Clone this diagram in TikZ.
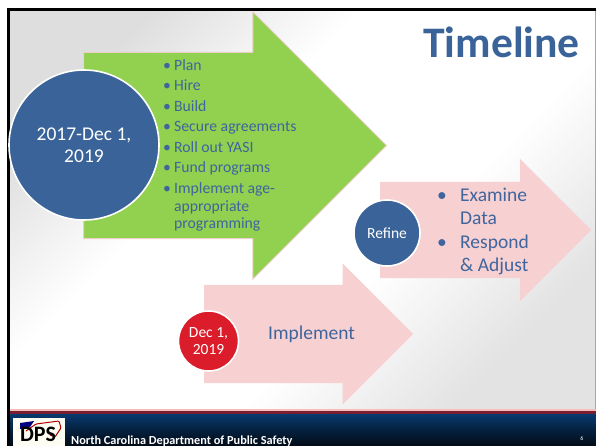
\documentclass[tikz,border=0pt]{standalone}
\usepackage{fontspec}
\setmainfont{Carlito}
\usepackage{xcolor}
\usetikzlibrary{shapes.arrows}

\definecolor{slideblue}{HTML}{3A6399}
\definecolor{listblue}{HTML}{3F659E}
\definecolor{arrowgreen}{HTML}{92D050}
\definecolor{arrowpink}{HTML}{F7D0D1}
\definecolor{edgepink}{HTML}{EBCFC8}
\definecolor{dotred}{HTML}{DB1C2A}
\definecolor{bandred}{HTML}{7A1E32}
\definecolor{footnavy}{HTML}{08396F}
\definecolor{footdark}{HTML}{020B16}

\pgfdeclareverticalshading{slidebg}{100bp}{
  color(0bp)=(black!13); color(25bp)=(black!13); color(40bp)=(white);
  color(60bp)=(white); color(75bp)=(black!11); color(100bp)=(black!11)}

\newcommand{\bitem}[2]{\makebox[#1][l]{\textbullet}\parbox[t]{130pt}{\raggedright #2}}

\begin{document}
\begin{tikzpicture}[
  x=1pt, y=-1pt,
  slidearrow/.style={single arrow, inner sep=0pt, anchor=tail},
  greenarrow/.style={slidearrow, fill=arrowgreen, draw=edgepink, line width=1pt},
  pinkarrow/.style={slidearrow, fill=arrowpink},
  datedot/.style={circle, draw=white, line width=1.6pt, inner sep=0pt, text=white, align=center},
  planitem/.style={inner sep=0pt, anchor=base west, text=listblue, font=\fontsize{15.7}{17.3}\selectfont},
  refineitem/.style={inner sep=0pt, anchor=base west, text=listblue, font=\fontsize{19.5}{23.5}\selectfont}
]
\useasboundingbox (0,0) rectangle (596,446);

% slide background
\shade[shading=slidebg, shading angle=225] (7,9) rectangle (596,409);
\fill[black] (7,8) rectangle (596,11);
\fill[black] (7,8) rectangle (10,446);
\fill[black!35] (595,11) rectangle (596,409);

% footer
\fill[edgepink!70!red!60] (10,409) rectangle (596,411);
\fill[bandred] (10,411) rectangle (596,414);
\shade[top color=footnavy, bottom color=footdark, middle color=footnavy!45!footdark] (10,414) rectangle (596,446);
\fill[black!12!yellow!5!white] (13,418) rectangle (65,446);
\draw[red!70!black, line width=1pt, rounded corners=1pt] (26,431) -- (36,424) -- (59,421) -- (61,428) -- (55,437) -- (50,435);
\fill[blue!50!black] (20,423) -- (34,421) -- (30,427) -- (20,429) -- cycle;
\node[inner sep=0pt, font=\fontsize{22}{22}\selectfont\bfseries] (logo) at (38,434.5) {DPS};
\node[inner sep=0pt, anchor=base west, text=white, font=\fontsize{12.3}{12.3}\selectfont\bfseries] (dept) at (71,444) {North Carolina Department of Public Safety};
\node[inner sep=0pt, text=white, font=\fontsize{6}{6}\selectfont] (pagenum) at (582,438) {6};

% arrows
\node[greenarrow, text height=185pt, text depth=0pt, minimum height=303pt, single arrow head extend=40.5pt] (planarrow) at (83,145.5) {};
\node[pinkarrow, text height=96pt, text depth=0pt, minimum height=211pt, single arrow head extend=23pt] (refinearrow) at (380,230) {};
\node[pinkarrow, text height=98pt, text depth=0pt, minimum height=209pt, single arrow head extend=21.5pt] (implementarrow) at (204,334) {};

% title
\node[inner sep=0pt, anchor=base east, text=slideblue, font=\fontsize{43.6}{44}\selectfont\bfseries] (title) at (580,58) {Timeline};

% lists
\node[planitem] (plan) at (163,71) {\bitem{11pt}{Plan}};
\node[planitem] (hire) at (163,91) {\bitem{11pt}{Hire}};
\node[planitem] (build) at (163,112) {\bitem{11pt}{Build}};
\node[planitem] (secure) at (163,132) {\bitem{11pt}{Secure agreements}};
\node[planitem] (rollout) at (163,153) {\bitem{11pt}{Roll out YASI}};
\node[planitem] (fund) at (163,173) {\bitem{11pt}{Fund programs}};
\node[planitem] (impl) at (163,194) {\bitem{11pt}{Implement age-\\appropriate\\programming}};
\node[refineitem] (examine) at (437,201) {\bitem{23pt}{Examine\\Data}};
\node[refineitem] (respond) at (437,248) {\bitem{23pt}{Respond\\\& Adjust}};
\node[inner sep=0pt, text=listblue, font=\fontsize{19.5}{23}\selectfont] (implementlabel) at (311.5,334) {Implement};

% date circles
\node[datedot, fill=slideblue, minimum size=150pt, font=\fontsize{19.5}{22}\selectfont] (startdot) at (84,145) {2017-Dec 1,\\2019};
\node[datedot, fill=slideblue, minimum size=66pt, font=\fontsize{15.5}{17}\selectfont] (refinedot) at (387,233) {Refine};
\node[datedot, fill=dotred, minimum size=60pt, font=\fontsize{15.5}{17}\selectfont] (impldot) at (208.5,341) {Dec 1,\\2019};
\end{tikzpicture}
\end{document}
